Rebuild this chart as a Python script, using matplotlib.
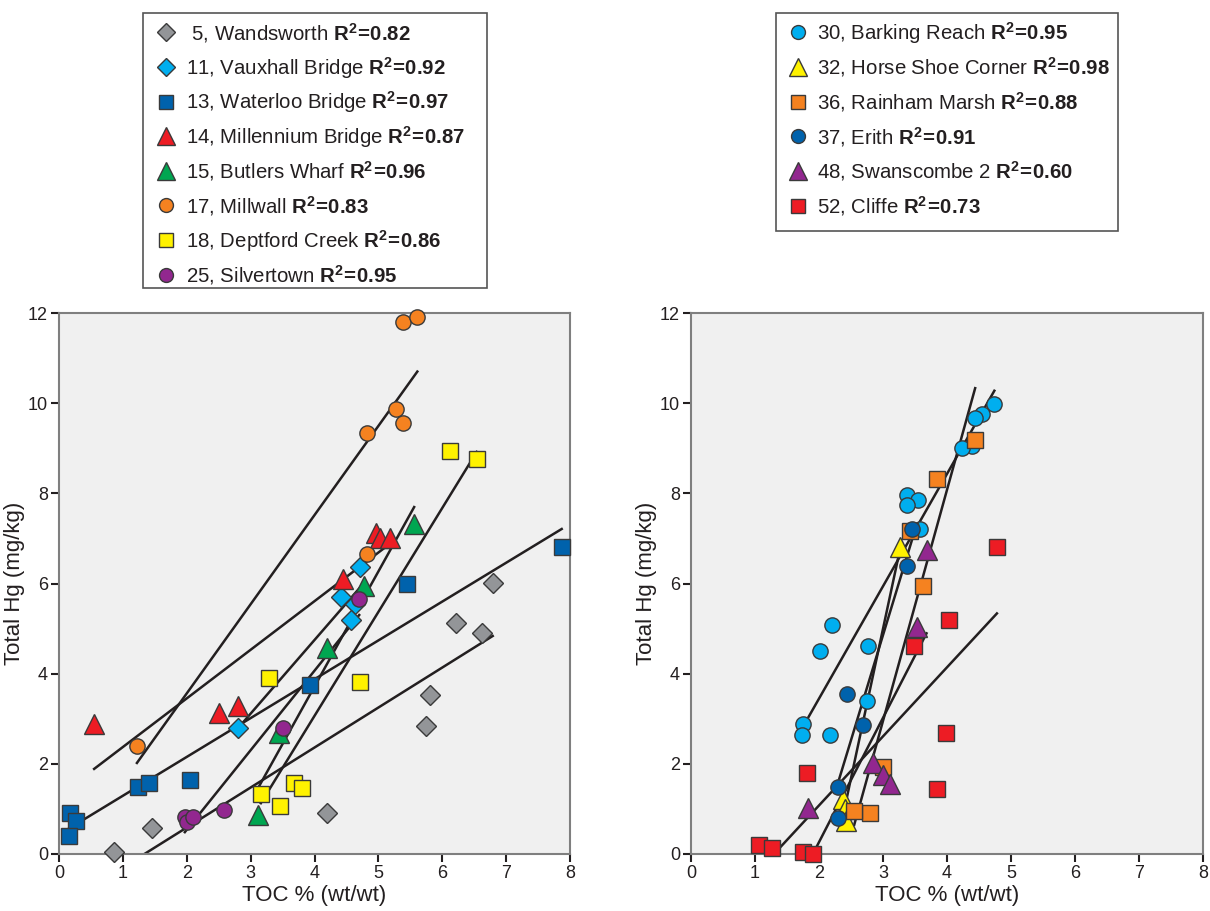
import numpy as np
from matplotlib import pyplot as plt
from matplotlib.lines import Line2D
from matplotlib.patches import Rectangle

plt.rcParams['font.family'] = ['Liberation Sans', 'DejaVu Sans']
plt.rcParams['mathtext.fontset'] = 'custom'
plt.rcParams['mathtext.rm'] = 'Liberation Sans'
plt.rcParams['mathtext.bf'] = 'Liberation Sans:bold'

TEXT = '#231f20'
LINE = '#231f20'
W, H = 1210, 911

# --- upstream sites (left panel): TOC % vs total Hg mg/kg ---
wandsworth_toc = [0.86, 1.46, 4.19, 5.74, 5.81, 6.62, 6.21, 6.79]
wandsworth_hg = [0.04, 0.58, 0.91, 2.84, 3.53, 4.90, 5.12, 6.01]

vauxhall_toc = [2.80, 4.72, 4.41, 4.63, 4.57]
vauxhall_hg = [2.79, 6.36, 5.70, 5.54, 5.19]

waterloo_toc = [0.18, 0.26, 0.15, 1.24, 1.41, 2.05, 3.93, 5.45, 7.87]
waterloo_hg = [0.91, 0.74, 0.41, 1.48, 1.58, 1.64, 3.74, 5.99, 6.80]

millennium_toc = [0.55, 2.51, 2.80, 4.45, 4.97, 5.02, 5.18]
millennium_hg = [2.89, 3.12, 3.29, 6.10, 7.12, 7.00, 7.02]

butlers_toc = [3.11, 3.45, 4.20, 4.77, 5.56]
butlers_hg = [0.86, 2.68, 4.56, 5.94, 7.32]

millwall_toc = [1.22, 4.82, 4.82, 5.27, 5.38, 5.38, 5.61]
millwall_hg = [2.40, 6.65, 9.33, 9.88, 9.56, 11.79, 11.91]

deptford_toc = [3.28, 3.16, 3.46, 3.68, 3.80, 4.71, 6.12, 6.54]
deptford_hg = [3.90, 1.32, 1.06, 1.58, 1.47, 3.81, 8.94, 8.77]

silvertown_toc = [1.97, 2.00, 2.10, 2.59, 3.50, 4.70]
silvertown_hg = [0.83, 0.72, 0.83, 0.98, 2.79, 5.65]

# --- downstream sites (right panel) ---
barking_toc = [2.21, 2.02, 2.77, 2.75, 1.75, 1.73, 2.17, 4.74, 4.55, 4.44,
               4.39, 4.23, 3.37, 3.54, 3.37, 3.58]
barking_hg = [5.09, 4.51, 4.61, 3.39, 2.88, 2.64, 2.64, 9.99, 9.77, 9.66,
              9.05, 9.01, 7.97, 7.86, 7.75, 7.20]

horseshoe_toc = [3.27, 2.37, 2.40, 2.42]
horseshoe_hg = [6.81, 1.23, 1.00, 0.73]

rainham_toc = [4.44, 3.84, 3.42, 3.63, 3.00, 2.80, 2.55]
rainham_hg = [9.18, 8.31, 7.17, 5.94, 1.92, 0.92, 0.96]

erith_toc = [3.46, 3.37, 2.43, 2.69, 2.29, 2.29]
erith_hg = [7.20, 6.39, 3.55, 2.86, 1.48, 0.80]

swanscombe_toc = [1.83, 2.85, 3.00, 3.11, 3.53, 3.68]
swanscombe_hg = [1.03, 2.01, 1.75, 1.55, 5.04, 6.74]

cliffe_toc = [1.07, 1.26, 1.75, 1.90, 1.82, 4.78, 4.03, 3.49, 3.98, 3.85]
cliffe_hg = [0.21, 0.13, 0.05, 0.00, 1.80, 6.80, 5.19, 4.61, 2.68, 1.45]

left_series = [
    (' 5, Wandsworth', '0.82', 'D', '#939598', wandsworth_toc, wandsworth_hg),
    ('11, Vauxhall Bridge', '0.92', 'D', '#00aeef', vauxhall_toc, vauxhall_hg),
    ('13, Waterloo Bridge', '0.97', 's', '#0062ac', waterloo_toc, waterloo_hg),
    ('14, Millennium Bridge', '0.87', '^', '#ed1c24', millennium_toc, millennium_hg),
    ('15, Butlers Wharf', '0.96', '^', '#00a651', butlers_toc, butlers_hg),
    ('17, Millwall', '0.83', 'o', '#f58220', millwall_toc, millwall_hg),
    ('18, Deptford Creek', '0.86', 's', '#fff200', deptford_toc, deptford_hg),
    ('25, Silvertown', '0.95', 'o', '#92278f', silvertown_toc, silvertown_hg),
]

right_series = [
    ('30, Barking Reach', '0.95', 'o', '#00aeef', barking_toc, barking_hg),
    ('32, Horse Shoe Corner', '0.98', '^', '#fff200', horseshoe_toc, horseshoe_hg),
    ('36, Rainham Marsh', '0.88', 's', '#f58220', rainham_toc, rainham_hg),
    ('37, Erith', '0.91', 'o', '#0062ac', erith_toc, erith_hg),
    ('48, Swanscombe 2', '0.60', '^', '#92278f', swanscombe_toc, swanscombe_hg),
    ('52, Cliffe', '0.73', 's', '#ed1c24', cliffe_toc, cliffe_hg),
]

MS = {'o': 11, 's': 11, 'D': 10, '^': 14}
LEG_MS = {'o': 10, 's': 10, 'D': 9.5, '^': 13}


def label_for(name, r2):
    # tight bold "R²=0.82", as in the printed figure
    return name + ' ' + r'$\mathbf{R^{2}\!=\!' + r2 + '}$'


def draw_panel(ax, series):
    ax.set_facecolor('#f0f0f0')
    # regression lines first, markers on top
    for name, r2, mk, col, x, y in series:
        x = np.array(x)
        y = np.array(y)
        slope, icpt = np.polyfit(x, y, 1)
        xs = np.array([x.min(), x.max()])
        ax.plot(xs, slope * xs + icpt, color=LINE, lw=1.8, zorder=2)
    for name, r2, mk, col, x, y in series:
        ax.plot(x, y, ls='none', marker=mk, ms=MS[mk], mfc=col, mec='#3a3a3a',
                mew=1.0, zorder=3, clip_on=False)

    ax.set_xlim(0, 8)
    ax.set_ylim(0, 12)
    ax.set_xticks(range(0, 9))
    ax.set_yticks(range(0, 13, 2))
    for s in ax.spines.values():
        s.set_color('#7f7f7f')
        s.set_linewidth(1.5)
    ax.tick_params(direction='out', length=6, width=1.5, color=TEXT,
                   labelsize=13, labelcolor=TEXT, pad=2)
    ax.set_xlabel('TOC % (wt/wt)', fontsize=16, color=TEXT, labelpad=2)
    ax.set_ylabel('Total Hg (mg/kg)', fontsize=16, color=TEXT, labelpad=2)


def add_legend(fig, series, box, marker_x, text_x, first_y, step):
    # box = (left, top, right, bottom) in pixels from top-left
    l, t, r, b = box
    fig.add_artist(Rectangle((l / W, 1 - b / H), (r - l) / W, (b - t) / H,
                             transform=fig.transFigure, fill=False,
                             edgecolor='#555555', lw=1.2))
    for i, (name, r2, mk, col, x, y) in enumerate(series):
        yc = first_y + i * step
        fig.add_artist(Line2D([marker_x / W], [1 - yc / H], ls='none',
                              marker=mk, ms=LEG_MS[mk], mfc=col,
                              mec='#3a3a3a', mew=1.0,
                              transform=fig.transFigure))
        fig.text(text_x / W, 1 - (yc + 7.5) / H, label_for(name, r2),
                 fontsize=14.7, color=TEXT, va='baseline', ha='left')


fig = plt.figure(figsize=(W / 100, H / 100), dpi=100)
ax1 = fig.add_axes([59 / W, 57 / H, 511 / W, 541 / H])
ax2 = fig.add_axes([691 / W, 57 / H, 512 / W, 541 / H])

draw_panel(ax1, left_series)
draw_panel(ax2, right_series)

add_legend(fig, left_series, (143, 13, 487, 288), 166, 186, 32.3, 34.6)
add_legend(fig, right_series, (776, 13, 1118, 231), 798, 817, 32.3, 34.7)

fig.savefig('out.png', dpi=100)
